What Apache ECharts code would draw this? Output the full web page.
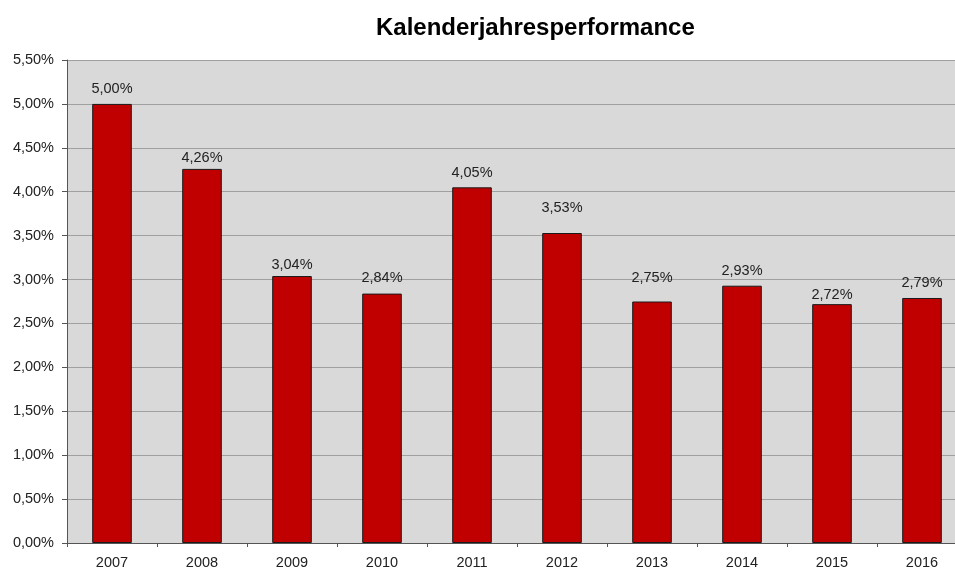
<!DOCTYPE html>
<html><head><meta charset="utf-8">
<script src="https://cdn.jsdelivr.net/npm/echarts@6/dist/echarts.min.js"></script>
<style>html,body{margin:0;padding:0;background:#fff;overflow:hidden;width:955px;height:570px}#c{width:967px;height:570px}</style>
</head><body><div id="c"></div>
<script>
var title = 'Kalenderjahresperformance';
var categories = ['2007','2008','2009','2010','2011','2012','2013','2014','2015','2016'];
var values = [5.00, 4.26, 3.04, 2.84, 4.05, 3.53, 2.75, 2.93, 2.72, 2.79];
var yMin = 0, yMax = 5.5, yStep = 0.5;
// label gap above each bar as seen in the reference (style only)
var labelGap = [7, 3, 4, 8, 7, 18, 16, 7, 2, 7];

function pct(v){ return v.toFixed(2).replace('.', ',') + '%'; }

var chart = echarts.init(document.getElementById('c'), null, {renderer:'canvas'});
chart.setOption({
  animation:false,
  backgroundColor:'#ffffff',
  title:{text:title, left:371, top:11, textStyle:{fontFamily:'Liberation Sans', fontWeight:'bold', fontSize:24, color:'#000'}},
  grid:{left:67, right:0, top:60, bottom:22, show:true, backgroundColor:'#d9d9d9', borderWidth:0},
  xAxis:{type:'category', data:categories,
    axisLine:{lineStyle:{color:'#555', width:1}},
    axisTick:{show:true, alignWithLabel:false, length:4, lineStyle:{color:'#555'}},
    axisLabel:{fontFamily:'Liberation Sans', fontSize:14.5, color:'#222', margin:12}},
  yAxis:{type:'value', min:yMin, max:yMax, interval:yStep,
    axisLine:{show:true, lineStyle:{color:'#555'}},
    axisTick:{show:true, length:5, lineStyle:{color:'#555'}},
    splitLine:{show:true, lineStyle:{color:'#a0a0a0', width:1}},
    axisLabel:{fontFamily:'Liberation Sans', fontSize:14.5, color:'#222', margin:13, formatter:function(v){return pct(v);}}},
  series:[{type:'bar', barWidth:'44%',
    data: values.map(function(v,i){ return {value:v, label:{distance:labelGap[i]}}; }),
    itemStyle:{color:'#c00000', borderColor:'#1a1a1a', borderWidth:1},
    label:{show:true, position:'top', fontFamily:'Liberation Sans', fontSize:14.5, color:'#222', formatter:function(p){return pct(p.value);}}}]
});
</script></body></html>
